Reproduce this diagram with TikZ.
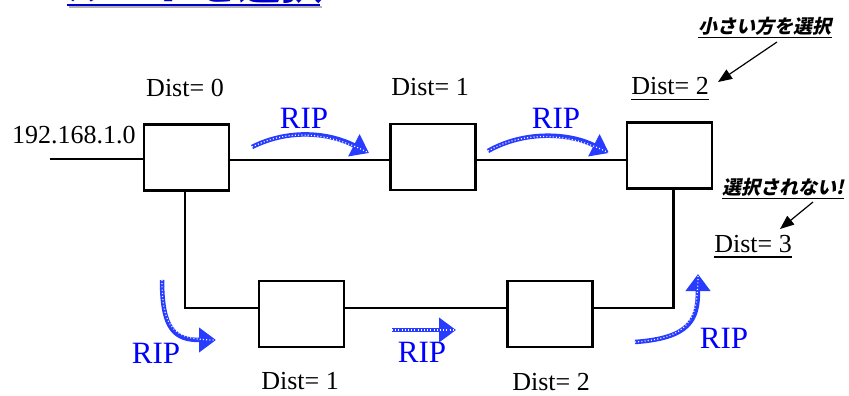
\documentclass[tikz,border=0pt]{standalone}
\usepackage{fontspec}
\setmainfont{Liberation Serif}
\newfontfamily\jpb[FakeSlant=0.22]{Noto Sans CJK JP}
\usetikzlibrary{arrows.meta}
\definecolor{ripblue}{RGB}{0,0,255}
\definecolor{arrblue}{RGB}{40,60,255}
\definecolor{titleblue}{RGB}{0,0,205}
\tikzset{
  router/.style={draw, line width=2.6pt, minimum width=85pt, minimum height=66pt, inner sep=0pt},
  wire/.style={line width=2.4pt},
  dist/.style={font=\fontsize{26}{26}\selectfont, inner sep=0pt},
  rip/.style={font=\fontsize{31}{31}\selectfont, text=ripblue, inner sep=0pt},
  note/.style={font=\jpb\bfseries\fontsize{19}{19}\selectfont, inner sep=0pt},
  ripflow/.style={line width=4.5pt, draw=arrblue, -{Triangle[width=24pt,length=17pt]},
    postaction={draw=white, line width=1.2pt, dash pattern=on 1pt off 2.2pt, -}},
  pointer/.style={line width=1.2pt, -{Triangle[width=11pt,length=14pt]}},
  uline/.style={line width=1.3pt},
}
\begin{document}
\begin{tikzpicture}[x=1pt,y=-1pt]
\useasboundingbox (0,0) rectangle (849,396);

% clipped title at top
\begin{scope}
  \clip (0,0) rectangle (849,8);
  \node[anchor=base west, inner sep=0pt, text=titleblue,
        font=\jpb\bfseries\fontsize{43}{43}\selectfont] (title) at (66,0) {ルートを選択};
  \fill[gray!60] (69,6) rectangle (322,8);
  \fill[titleblue] (67,4) rectangle (320,6.5);
\end{scope}

% routers
\node[router] (A) at (186.5,157.5) {};
\node[router] (B) at (433,157) {};
\node[router] (C) at (669.5,155.5) {};
\node[router] (D) at (301.5,314) {};
\node[router] (E) at (550,314) {};

% wires
\coordinate (net) at (50,159);
\coordinate (upper) at (0,160);
\coordinate (lower) at (0,308);
\draw[wire] (net) -- (net -| A.west);
\draw[wire] (upper -| A.east) -- (upper -| B.west);
\draw[wire] (upper -| B.east) -- (upper -| C.west);
\draw[wire] ([xshift=-1.5pt]A.south) |- (lower -| D.west);
\draw[wire] (lower -| D.east) -- (lower -| E.west);
\draw[wire] (lower -| E.east) -| ([xshift=4pt]C.south);

% labels
\node[dist] (lnet) at (74,135.5) {192.168.1.0};
\node[dist] (dA) at (185,87.5) {Dist= 0};
\node[dist] (dB) at (430,87.5) {Dist= 1};
\node[dist] (dC) at (670,86.5) {Dist= 2};
\node[dist] (dD) at (300,381) {Dist= 1};
\node[dist] (dE) at (551,382) {Dist= 2};
\node[dist] (dX) at (753,244) {Dist= 3};
\draw[uline] ([yshift=-4pt]dC.south west) -- ([yshift=-4pt]dC.south east);
\draw[uline] ([yshift=-4pt]dX.south west) -- ([yshift=-4pt]dX.south east);

% notes
\node[note] (n1) at (765,26) {小さい方を選択};
\node[note] (n2) at (783,187) {選択されない!};
\draw[uline] ([yshift=-2pt]n1.south west) -- ([yshift=-2pt]n1.south east);
\draw[uline] ([yshift=-2pt]n2.south west) -- ([yshift=-2pt]n2.south east);
\coordinate (p1s) at (777,42);
\coordinate (p1e) at (718,82);
\coordinate (p2s) at (813,202);
\coordinate (p2e) at (780,229);
\draw[pointer] (p1s) -- (p1e);
\draw[pointer] (p2s) -- (p2e);

% RIP flows
\node[rip] (r1) at (304,118) {RIP};
\node[rip] (r2) at (556,118) {RIP};
\node[rip] (r3) at (156,353) {RIP};
\node[rip] (r4) at (422,352) {RIP};
\node[rip] (r5) at (724,338) {RIP};

\coordinate (f1s) at (252,147); \coordinate (f1e) at (369,153);
\coordinate (f2s) at (488,151); \coordinate (f2e) at (609,153);
\coordinate (f3s) at (162,280); \coordinate (f3e) at (216,340);
\coordinate (f4s) at (392,330); \coordinate (f4e) at (456,330);
\coordinate (f5s) at (635,342); \coordinate (f5e) at (698,274);
\draw[ripflow] (f1s) .. controls (290,128) and (330,133) .. (f1e);
\draw[ripflow] (f2s) .. controls (525,130) and (570,133) .. (f2e);
\draw[ripflow] (f3s) .. controls (162,330) and (175,340) .. (f3e);
\draw[ripflow] (f4s) -- (f4e);
\draw[ripflow] (f5s) .. controls (690,338) and (698,320) .. (f5e);
\end{tikzpicture}
\end{document}
